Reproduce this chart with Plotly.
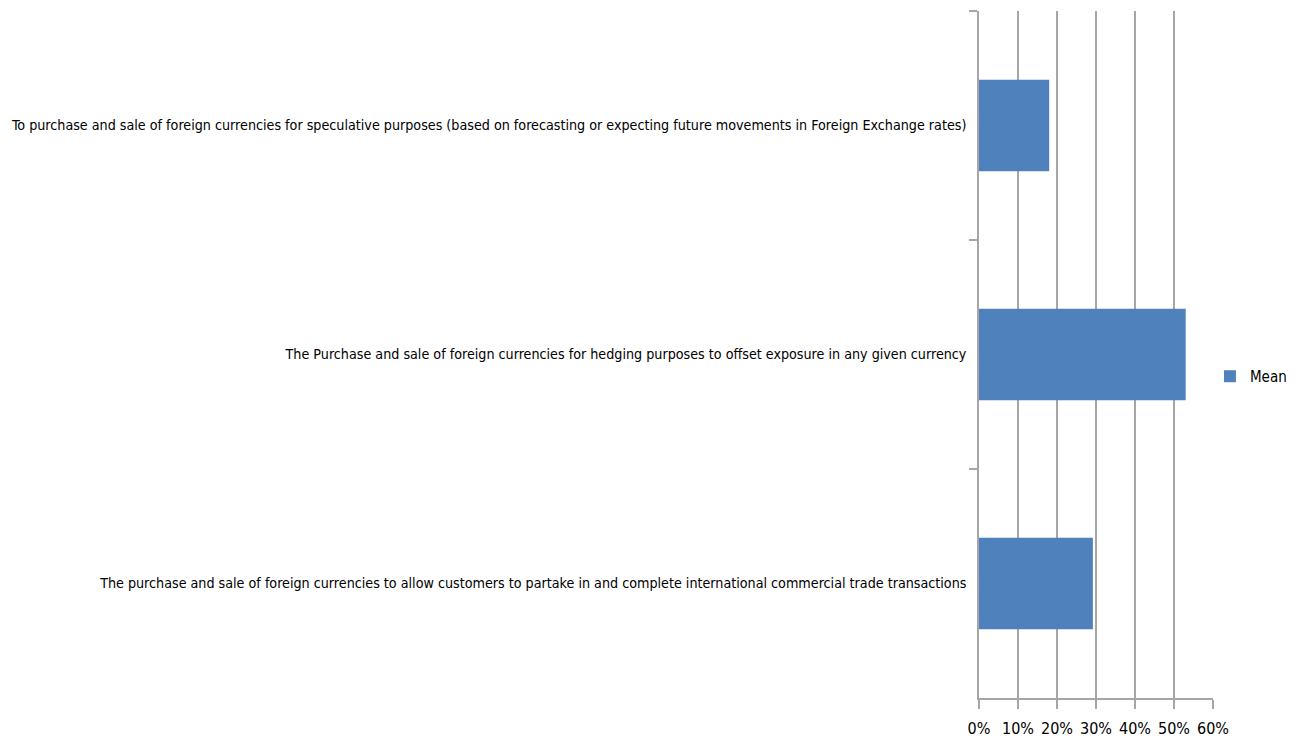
import plotly.graph_objects as go

categories = [
    "To purchase and sale of foreign currencies for speculative purposes (based on forecasting or expecting future movements in Foreign Exchange rates)",
    "The Purchase and sale of foreign currencies for hedging purposes to offset exposure in any given currency",
    "The purchase and sale of foreign currencies to allow customers to partake in and complete international commercial trade transactions",
]
mean_values = [0.18, 0.53, 0.292]
series_name = "Mean"
x_ticks = [0, 0.1, 0.2, 0.3, 0.4, 0.5, 0.6]

FONT = "DejaVu Sans Condensed, DejaVu Sans, sans-serif"

fig = go.Figure()
fig.add_trace(go.Bar(
    y=categories,
    x=mean_values,
    orientation="h",
    name=series_name,
    marker=dict(color="#4F81BD", line=dict(width=0)),
    showlegend=True,
))

fig.update_layout(
    width=1303,
    height=740,
    margin=dict(l=979, r=90, t=11, b=42, autoexpand=False),
    paper_bgcolor="white",
    plot_bgcolor="white",
    font=dict(family=FONT, size=14, color="black"),
    bargap=0.6,
    showlegend=True,
    legend=dict(
        x=0.987, xanchor="left", y=0.468, yanchor="middle",
        font=dict(family=FONT, size=15, color="black"),
        itemwidth=30,
        bgcolor="rgba(0,0,0,0)",
    ),
    xaxis=dict(
        range=[0, 0.6],
        tickvals=x_ticks,
        tickformat=".0%",
        showgrid=True,
        gridcolor="#A6A6A6",
        gridwidth=1.5,
        showline=True,
        linecolor="#A6A6A6",
        linewidth=1.5,
        ticks="outside",
        ticklen=9,
        tickcolor="#A6A6A6",
        tickwidth=1.5,
        tickangle=0,
        ticklabelstandoff=6,
        tickfont=dict(family=FONT, size=16, color="black"),
        zeroline=False,
        automargin=False,
        fixedrange=True,
    ),
    yaxis=dict(
        type="category",
        autorange="reversed",
        showline=True,
        linecolor="#A6A6A6",
        linewidth=1.5,
        ticks="outside",
        tickson="boundaries",
        ticklen=8,
        tickcolor="#A6A6A6",
        tickwidth=1.5,
        ticklabelstandoff=8,
        tickfont=dict(family=FONT, size=14.2, color="black"),
        showgrid=False,
        automargin=False,
        fixedrange=True,
    ),
)

fig.write_html("out.html")
